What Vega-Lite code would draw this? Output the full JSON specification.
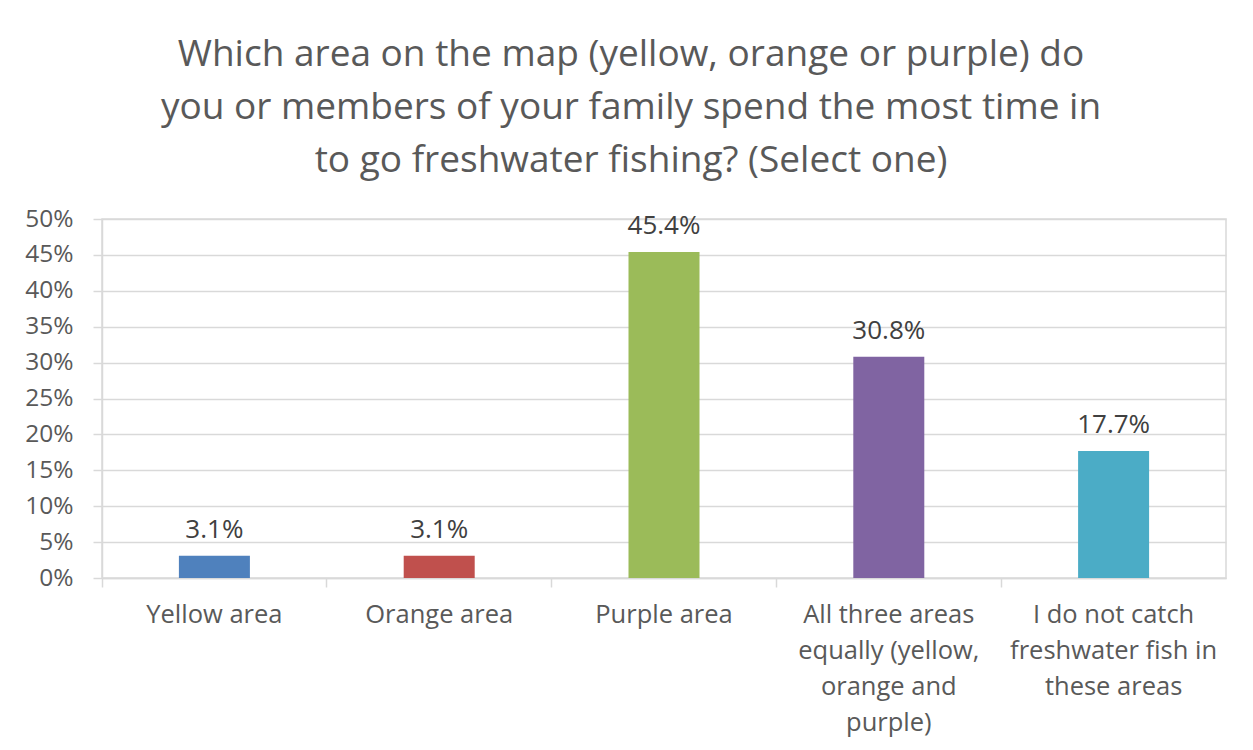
{
  "$schema": "https://vega.github.io/schema/vega-lite/v6.json",
  "autosize": "none",
  "width": 1124,
  "height": 359,
  "padding": {"left": 102, "top": 219, "right": 27, "bottom": 172},
  "background": "white",
  "title": {
    "text": ["Which area on the map (yellow, orange or purple) do", "you or members of your family spend the most time in", "to go freshwater fishing? (Select one)"],
    "font": "Open Sans",
    "fontSize": 37,
    "fontWeight": "normal",
    "color": "#595959",
    "lineHeight": 53,
    "anchor": "middle",
    "dx": -33,
    "offset": 26
  },
  "data": {
    "values": [
      {"category": "Yellow area", "value": 0.031},
      {"category": "Orange area", "value": 0.031},
      {"category": "Purple area", "value": 0.454},
      {"category": "All three areas", "value": 0.308},
      {"category": "Do not catch", "value": 0.177}
    ]
  },
  "encoding": {
    "x": {
      "field": "category",
      "type": "nominal",
      "sort": null,
      "scale": {"paddingInner": 0, "paddingOuter": 0},
      "axis": {
        "title": null,
        "labelAngle": 0,
        "labelExpr": "split(datum.label == 'All three areas' ? 'All three areas|equally (yellow,|orange and|purple)' : datum.label == 'Do not catch' ? 'I do not catch|freshwater fish in|these areas' : datum.label, '|')",
        "labelFont": "Open Sans",
        "labelFontSize": 25.5,
        "labelColor": "#595959",
        "labelLineHeight": 36,
        "labelPadding": 15,
        "labelLimit": 400,
        "labelBaseline": "top",
        "bandPosition": 0,
        "tickSize": 9,
        "tickColor": "#d9d9d9",
        "tickWidth": 1.5,
        "domainColor": "#d9d9d9",
        "domainWidth": 1.5,
        "grid": false
      }
    },
    "y": {
      "field": "value",
      "type": "quantitative",
      "scale": {"domain": [0, 0.5]},
      "axis": {
        "title": null,
        "format": ".0%",
        "values": [0, 0.05, 0.1, 0.15, 0.2, 0.25, 0.3, 0.35, 0.4, 0.45, 0.5],
        "labelFont": "Open Sans",
        "labelFontSize": 24.5,
        "labelColor": "#595959",
        "labelPadding": 20,
        "tickSize": 9,
        "tickColor": "#d9d9d9",
        "tickWidth": 1.5,
        "domainColor": "#d9d9d9",
        "domainWidth": 1.5,
        "grid": true,
        "gridColor": "#d9d9d9",
        "gridWidth": 1.5
      }
    }
  },
  "layer": [
    {
      "mark": {"type": "bar", "size": 71},
      "encoding": {
        "color": {
          "field": "category",
          "type": "nominal",
          "sort": null,
          "scale": {"range": ["#4F81BD", "#C0504D", "#9BBB59", "#8064A2", "#4BACC6"]},
          "legend": null
        }
      }
    },
    {
      "mark": {"type": "text", "baseline": "bottom", "dy": -13, "font": "Open Sans", "fontSize": 26, "color": "#404040"},
      "encoding": {
        "text": {"field": "value", "type": "quantitative", "format": ".1%"}
      }
    }
  ],
  "config": {
    "view": {"stroke": "#d9d9d9", "strokeWidth": 1.5}
  }
}
